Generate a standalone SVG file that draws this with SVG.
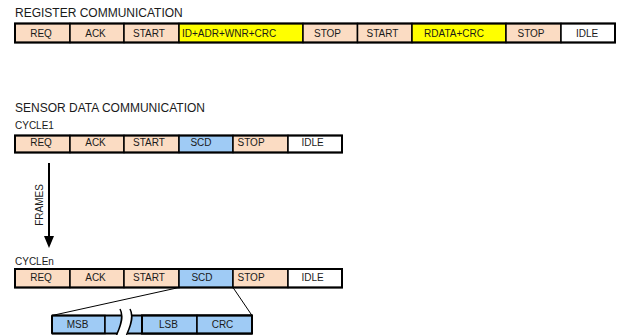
<svg xmlns="http://www.w3.org/2000/svg" width="619" height="335" viewBox="0 0 619 335">
<style>
text{font-family:"Liberation Sans",Arial,sans-serif;fill:#1a1a1a}
.t{font-size:12px}
.s{font-size:10px}
.c{font-size:10px;text-anchor:middle}
.cell{stroke:#000;stroke-width:1.5}
.p{fill:#fbdcc3}
.y{fill:#ffff00}
.b{fill:#9fcbf5}
.w{fill:#fff}
.frame{fill:none;stroke:#000;stroke-width:2}
.ln{stroke:#000;stroke-width:1;fill:none}
</style>
<rect width="619" height="335" fill="#fff"/>
<text class="t" x="15" y="16.5">REGISTER COMMUNICATION</text>
<g id="reg-row">
<rect class="cell p" x="15" y="23.5" width="55" height="19"/><text class="c" x="41" y="37">REQ</text>
<rect class="cell p" x="70" y="23.5" width="54" height="19"/><text class="c" x="95.5" y="37">ACK</text>
<rect class="cell p" x="124" y="23.5" width="55" height="19"/><text class="c" x="149" y="37">START</text>
<rect class="cell y" x="179" y="23.5" width="124" height="19"/><text class="s" x="182" y="37">ID+ADR+WNR+CRC</text>
<rect class="cell p" x="303" y="23.5" width="54.5" height="19"/><text class="c" x="327.5" y="37">STOP</text>
<rect class="cell p" x="357.5" y="23.5" width="54.5" height="19"/><text class="c" x="382.5" y="37">START</text>
<rect class="cell y" x="412" y="23.5" width="94" height="19"/><text class="c" x="454" y="37">RDATA+CRC</text>
<rect class="cell p" x="506" y="23.5" width="55" height="19"/><text class="c" x="531" y="37">STOP</text>
<rect class="cell w" x="561" y="23.5" width="54" height="19"/><text class="c" x="587" y="37">IDLE</text>
<rect class="frame" x="15" y="23.5" width="600" height="19"/>
</g>
<text class="t" x="15" y="112">SENSOR DATA COMMUNICATION</text>
<text class="s" x="15" y="129">CYCLE1</text>
<g id="cycle1-row">
<rect class="cell p" x="15" y="135.5" width="55" height="17"/><text class="c" x="41" y="146">REQ</text>
<rect class="cell p" x="70" y="135.5" width="54" height="17"/><text class="c" x="95.5" y="146">ACK</text>
<rect class="cell p" x="124" y="135.5" width="55" height="17"/><text class="c" x="149" y="146">START</text>
<rect class="cell b" x="179" y="135.5" width="54" height="17"/><text class="c" x="201" y="146">SCD</text>
<rect class="cell p" x="233" y="135.5" width="55" height="17"/><text class="s" x="237.5" y="146">STOP</text>
<rect class="cell w" x="288" y="135.5" width="54" height="17"/><text class="c" x="312.5" y="146">IDLE</text>
<rect class="frame" x="15" y="135.5" width="327" height="17"/>
</g>
<g id="frames-arrow">
<line class="ln" x1="49" y1="163" x2="49" y2="238" style="stroke-width:2"/>
<polygon points="44,236 54,236 49,248" fill="#000"/>
<text class="c" transform="translate(42.5,205) rotate(-90)">FRAMES</text>
</g>
<text class="s" x="15" y="265">CYCLEn</text>
<g id="cyclen-row">
<rect class="cell p" x="15" y="269" width="55" height="18.5"/><text class="c" x="41" y="281">REQ</text>
<rect class="cell p" x="70" y="269" width="54" height="18.5"/><text class="c" x="95.5" y="281">ACK</text>
<rect class="cell p" x="124" y="269" width="55" height="18.5"/><text class="c" x="149" y="281">START</text>
<rect class="cell b" x="179" y="269" width="54" height="18.5"/><text class="c" x="202" y="281">SCD</text>
<rect class="cell p" x="233" y="269" width="55" height="18.5"/><text class="s" x="237.5" y="281">STOP</text>
<rect class="cell w" x="288" y="269" width="54" height="18.5"/><text class="c" x="312.5" y="281">IDLE</text>
<rect class="frame" x="15" y="269" width="327" height="18.5"/>
</g>
<g id="connectors">
<line class="ln" x1="179" y1="287.5" x2="52" y2="315.5"/>
<line class="ln" x1="233" y1="287.5" x2="252" y2="315.5"/>
</g>
<g id="scd-detail">
<rect class="cell b" x="52" y="315.5" width="53" height="18"/><text class="c" x="77.5" y="328">MSB</text>
<path class="b" d="M105 315.5 H121.5 C123 320 120 327 117.5 333.5 H105 Z"/>
<path class="b" d="M131.5 315.5 H142 V333.5 H127.5 C130 327 133 320 131.5 315.5 Z"/>
<path d="M52 315.5 H121.5 M52 333.5 H117.5 M131.5 315.5 H252 M127.5 333.5 H252" stroke="#000" stroke-width="2" fill="none"/>
<line class="ln" x1="52" y1="315.5" x2="52" y2="333.5" style="stroke-width:2"/>
<line class="ln" x1="105" y1="315.5" x2="105" y2="333.5" style="stroke-width:1.5"/>
<path class="ln" d="M120 309 C124 316 121 325 116.5 335" style="stroke-width:1.5"/>
<path class="ln" d="M130 309 C134 316 131 325 126.5 335" style="stroke-width:1.5"/>
<rect class="cell b" x="142" y="315.5" width="55" height="18"/><text class="c" x="168.5" y="328">LSB</text>
<rect class="cell b" x="197" y="315.5" width="55" height="18"/><text class="c" x="222.5" y="328">CRC</text>
<rect class="frame" x="142" y="315.5" width="110" height="18"/>
</g>
</svg>
